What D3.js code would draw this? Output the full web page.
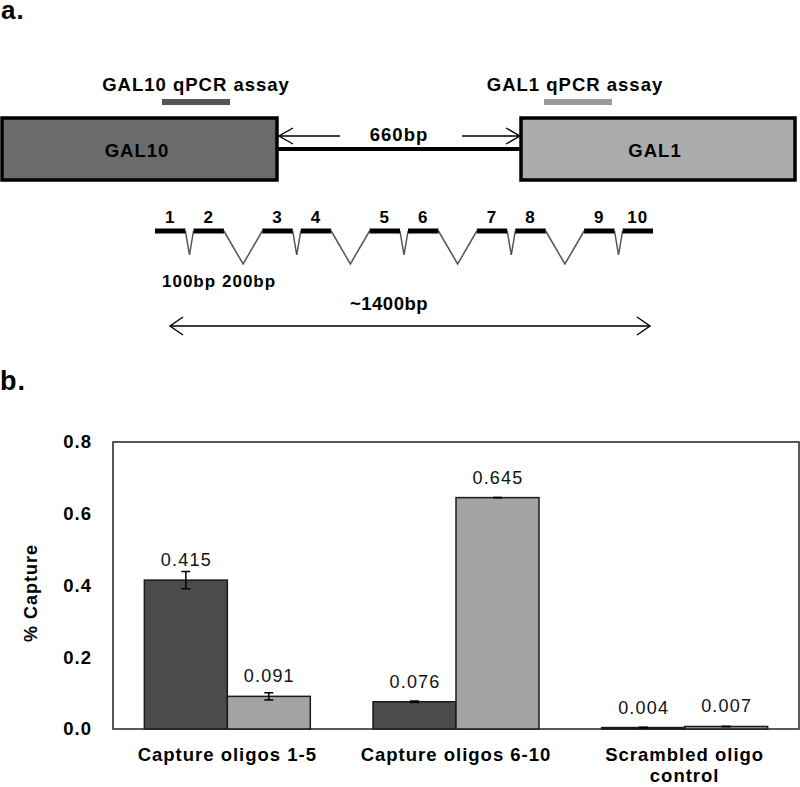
<!DOCTYPE html>
<html>
<head>
<meta charset="utf-8">
<script src="https://cdn.jsdelivr.net/npm/d3@7"></script>
<style>
  html, body { margin: 0; padding: 0; background: #fff; }
  svg { display: block; }
  text { font-family: "Liberation Sans", Arial, Helvetica, sans-serif; letter-spacing: 1px; }
</style>
</head>
<body>
<svg id="chart" width="800" height="787"></svg>
<script>
// ---------------- DATA ----------------
const categories = ["Capture oligos 1-5", "Capture oligos 6-10", "Scrambled oligo control"];
const seriesNames = ["GAL10", "GAL1"];
const gal10Values = [0.415, 0.076, 0.004];
const gal1Values = [0.091, 0.645, 0.007];
const gal10Errors = [0.024, 0.002, 0.001];
const gal1Errors = [0.010, 0.0005, 0.0005];
const yTicks = [0.0, 0.2, 0.4, 0.6, 0.8];

// Panel a diagram content
const oligoLabels = ["1", "2", "3", "4", "5", "6", "7", "8", "9", "10"];
const gapKinds = ["100bp", "200bp", "100bp", "200bp", "100bp", "200bp", "100bp", "200bp", "100bp"];
const gapLabels = ["100bp", "200bp"];
const spacerLabel = "660bp";
const spanLabel = "~1400bp";
const genes = ["GAL10", "GAL1"];
const assayLabels = ["GAL10 qPCR assay", "GAL1 qPCR assay"];

// ---------------- SETUP ----------------
const svg = d3.select("#chart");
const FONT = '"Liberation Sans", Arial, Helvetica, sans-serif';

// ---------- Panel labels ----------
svg.append("text").attr("x", 1).attr("y", 19).attr("font-size", 26).attr("font-weight", "bold").text("a.");
svg.append("text").attr("x", 0).attr("y", 390).attr("font-size", 27).attr("font-weight", "bold").text("b.");

// ---------- Panel a: gene boxes ----------
const geneFill = ["#6b6b6b", "#ababab"];
const assayFill = ["#555555", "#9a9a9a"];
const geneX = d3.scaleOrdinal().domain(genes).range([[2, 277], [521, 795]]);
const geneLabelX = [137, 655];
const boxTop = 118, boxBottom = 180;

// connecting line
svg.append("line").attr("x1", 277).attr("x2", 521).attr("y1", 149).attr("y2", 149)
  .attr("stroke", "#000").attr("stroke-width", 4);

genes.forEach((g, i) => {
  const [x0, x1] = geneX(g);
  svg.append("rect").attr("x", x0).attr("y", boxTop).attr("width", x1 - x0).attr("height", boxBottom - boxTop)
    .attr("fill", geneFill[i]).attr("stroke", "#000").attr("stroke-width", 3.5);
  svg.append("text").attr("x", geneLabelX[i]).attr("y", 157)
    .attr("text-anchor", "middle").attr("font-size", 18.5).attr("font-weight", "bold").text(g);
});

// qPCR assay labels and bars
const assayText = [[196, 91], [575, 91]];
const assayBar = [[162, 230], [544, 612]];
assayLabels.forEach((t, i) => {
  svg.append("text").attr("x", assayText[i][0]).attr("y", assayText[i][1]).attr("text-anchor", "middle")
    .attr("font-size", 18.5).attr("font-weight", "bold").text(t);
  svg.append("rect").attr("x", assayBar[i][0]).attr("y", 99).attr("width", assayBar[i][1] - assayBar[i][0])
    .attr("height", 6).attr("fill", assayFill[i]);
});

// arrow helper (open chevron heads)
function arrow(x1, x2, y, heads, hx, hy) {
  const g = svg.append("g").attr("stroke", "#000").attr("stroke-width", 1.4).attr("fill", "none");
  g.append("line").attr("x1", x1).attr("x2", x2).attr("y1", y).attr("y2", y);
  heads.forEach(h => {
    const dir = h === "left" ? 1 : -1;
    const xh = h === "left" ? x1 : x2;
    g.append("path").attr("d", `M${xh + dir * hx},${y - hy} L${xh},${y} L${xh + dir * hx},${y + hy}`);
  });
}
arrow(279, 340, 136, ["left"], 14, 8);
arrow(462, 520, 136, ["right"], 14, 8);
svg.append("text").attr("x", 399).attr("y", 141).attr("text-anchor", "middle")
  .attr("font-size", 18.5).attr("font-weight", "bold").text(spacerLabel);

// ---------- Panel a: capture oligos ----------
// layout in relative units: oligo = 1, small gap / big gap
const gapUnits = { "100bp": 0.265, "200bp": 1.26 };
let pos = 0;
const oligos = oligoLabels.map((lab, i) => {
  const o = { label: lab, start: pos, end: pos + 1 };
  pos += 1;
  if (i < gapKinds.length) { o.gap = gapKinds[i]; o.gapEnd = pos + gapUnits[gapKinds[i]]; pos = o.gapEnd; }
  return o;
});
const ox = d3.scaleLinear().domain([0, pos]).range([155, 653]);
const lineY = 231;
const gapDepth = { "100bp": 24, "200bp": 33 };

oligos.forEach(o => {
  if (o.gap) {
    const a = ox(o.end), b = ox(o.gapEnd);
    svg.append("path").attr("d", `M${a},${lineY} L${(a + b) / 2},${lineY + gapDepth[o.gap]} L${b},${lineY}`)
      .attr("fill", "none").attr("stroke", "#555").attr("stroke-width", 1.5);
  }
});
oligos.forEach(o => {
  svg.append("line").attr("x1", ox(o.start)).attr("x2", ox(o.end)).attr("y1", lineY).attr("y2", lineY)
    .attr("stroke", "#000").attr("stroke-width", 5);
  svg.append("text").attr("x", ox((o.start + o.end) / 2)).attr("y", 223).attr("text-anchor", "middle")
    .attr("font-size", 17).attr("font-weight", "bold").text(o.label);
});
svg.append("text").attr("x", 162).attr("y", 287).attr("font-size", 17).attr("font-weight", "bold").text(gapLabels[0]);
svg.append("text").attr("x", 222).attr("y", 287).attr("font-size", 17).attr("font-weight", "bold").text(gapLabels[1]);
svg.append("text").attr("x", 389).attr("y", 310).attr("text-anchor", "middle")
  .attr("font-size", 18.5).attr("font-weight", "bold").style("letter-spacing", "0.5px").text(spanLabel);
arrow(170, 650, 326, ["left", "right"], 13, 9);

// ---------- Panel b: bar chart ----------
const plot = { left: 113, right: 799, top: 442, bottom: 729 };
const y = d3.scaleLinear().domain([0, 0.8]).range([plot.bottom, plot.top]);
const x0 = d3.scaleBand().domain(categories).range([plot.left, plot.right]).paddingInner(0).paddingOuter(0);
const x1 = d3.scaleBand().domain(seriesNames).range([0, x0.bandwidth()]).paddingInner(0).paddingOuter(0.378);
const barFill = { GAL10: "#4b4b4b", GAL1: "#a3a3a3" };

const rows = [];
categories.forEach((c, i) => {
  rows.push({ cat: c, s: "GAL10", v: gal10Values[i], e: gal10Errors[i] });
  rows.push({ cat: c, s: "GAL1", v: gal1Values[i], e: gal1Errors[i] });
});

// frame
svg.append("rect").attr("x", plot.left).attr("y", plot.top).attr("width", plot.right - plot.left)
  .attr("height", plot.bottom - plot.top).attr("fill", "none").attr("stroke", "#222").attr("stroke-width", 1.5);

// y axis
const yAxis = d3.axisLeft(y).tickValues(yTicks).tickFormat(d3.format(".1f")).tickSize(0).tickPadding(21);
const ya = svg.append("g").attr("transform", `translate(${plot.left},0)`).call(yAxis);
ya.select(".domain").remove();
ya.selectAll("text").attr("font-size", 18.5).attr("font-weight", "bold").attr("fill", "#000")
  .style("font-family", FONT).style("letter-spacing", "1px");

svg.append("text").attr("transform", `translate(37,593) rotate(-90)`).attr("text-anchor", "middle")
  .attr("font-size", 18).attr("font-weight", "bold").text("% Capture");

// bars
const bars = svg.append("g");
bars.selectAll("rect").data(rows).join("rect")
  .attr("x", d => x0(d.cat) + x1(d.s))
  .attr("width", x1.bandwidth())
  .attr("y", d => y(d.v))
  .attr("height", d => y(0) - y(d.v))
  .attr("fill", d => barFill[d.s])
  .attr("stroke", "#1a1a1a").attr("stroke-width", 1.5);

// error bars
const eb = svg.append("g").attr("stroke", "#000").attr("stroke-width", 1.5);
rows.forEach(d => {
  const cx = x0(d.cat) + x1(d.s) + x1.bandwidth() / 2;
  eb.append("line").attr("x1", cx).attr("x2", cx).attr("y1", y(d.v + d.e)).attr("y2", y(d.v - d.e));
  eb.append("line").attr("x1", cx - 4.5).attr("x2", cx + 4.5).attr("y1", y(d.v + d.e)).attr("y2", y(d.v + d.e));
  eb.append("line").attr("x1", cx - 4.5).attr("x2", cx + 4.5).attr("y1", y(d.v - d.e)).attr("y2", y(d.v - d.e));
});

// value labels
svg.append("g").selectAll("text").data(rows).join("text")
  .attr("x", d => x0(d.cat) + x1(d.s) + x1.bandwidth() / 2 + 0.5)
  .attr("y", d => y(d.v) - 14)
  .attr("text-anchor", "middle").attr("font-size", 18).attr("fill", "#111")
  .style("letter-spacing", "1.2px")
  .text(d => d3.format(".3f")(d.v));

// category labels (wrap long ones)
const catLines = { "Scrambled oligo control": ["Scrambled oligo", "control"] };
categories.forEach(c => {
  const lines = catLines[c] || [c];
  const t = svg.append("text").attr("x", x0(c) + x0.bandwidth() / 2).attr("y", 761)
    .attr("text-anchor", "middle").attr("font-size", 18.5).attr("font-weight", "bold");
  lines.forEach((l, i) => t.append("tspan").attr("x", x0(c) + x0.bandwidth() / 2).attr("dy", i === 0 ? 0 : 21).text(l));
});
</script>
</body>
</html>
